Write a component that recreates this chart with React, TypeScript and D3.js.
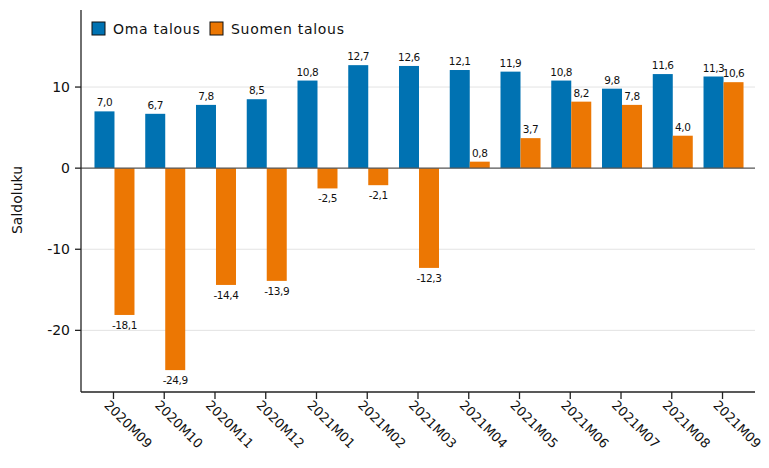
import React from "react";
import * as d3 from "d3";

const months = [
  "2020M09", "2020M10", "2020M11", "2020M12", "2021M01", "2021M02", "2021M03",
  "2021M04", "2021M05", "2021M06", "2021M07", "2021M08", "2021M09",
];
const omaTalous = [7.0, 6.7, 7.8, 8.5, 10.8, 12.7, 12.6, 12.1, 11.9, 10.8, 9.8, 11.6, 11.3];
const suomenTalous = [-18.1, -24.9, -14.4, -13.9, -2.5, -2.1, -12.3, 0.8, 3.7, 8.2, 7.8, 4.0, 10.6];
const seriesNames = ["Oma talous", "Suomen talous"];
const yTicks = [-20, -10, 0, 10];

const colors = ["#0072b2", "#ec7703"];
const width = 769;
const height = 468;
const font = "DejaVu Sans, Verdana, sans-serif";

const fmt = (v: number) => v.toFixed(1).replace(".", ",");

export default function App() {
  const x = d3.scaleBand().domain(months).range([81, 755]).paddingInner(0).paddingOuter(0.14);
  const y = d3.scaleLinear().domain([-27.6, 19.5]).range([392, 10]);
  const barW = 20;
  const series = [omaTalous, suomenTalous];

  return (
    <svg width={width} height={height} style={{ position: "absolute", left: 0, top: 0, background: "#fff" }}>
      {/* grid */}
      {yTicks.filter(t => t !== 0).map(t => (
        <line key={t} x1={81} x2={755} y1={y(t)} y2={y(t)} stroke="#e3e3e3" strokeWidth={1} />
      ))}

      {/* bars */}
      {months.map((m, i) => {
        const cx = x(m)! + x.bandwidth() / 2;
        return series.map((s, j) => {
          const v = s[i];
          const bx = cx - barW + j * barW + 1;
          const top = Math.min(y(v), y(0));
          const h = Math.abs(y(v) - y(0));
          return (
            <g key={m + j}>
              <rect x={bx} y={top} width={barW} height={h} fill={colors[j]} />
              <text
                x={bx + barW / 2}
                y={v >= 0 ? y(v) - 5 : y(v) + 14}
                textAnchor="middle"
                fontFamily={font}
                fontSize={10.5}
                letterSpacing={-0.4}
                fill="#111"
              >
                {fmt(v)}
              </text>
            </g>
          );
        });
      })}

      {/* zero line */}
      <line x1={81} x2={755} y1={y(0)} y2={y(0)} stroke="#555" strokeWidth={1.2} />

      {/* y axis */}
      <line x1={81} x2={81} y1={10} y2={392} stroke="#222" strokeWidth={1.3} />
      {yTicks.map(t => (
        <g key={t}>
          <line x1={75} x2={81} y1={y(t)} y2={y(t)} stroke="#222" strokeWidth={1.3} />
          <text x={70} y={y(t)} dy="0.35em" textAnchor="end" fontFamily={font} fontSize={14} fill="#111">
            {t}
          </text>
        </g>
      ))}
      <text
        transform={`translate(22, 200) rotate(-90)`}
        textAnchor="middle"
        fontFamily={font}
        fontSize={14}
        fill="#111"
      >
        Saldoluku
      </text>

      {/* x axis */}
      <line x1={81} x2={755} y1={392} y2={392} stroke="#222" strokeWidth={1.3} />
      {months.map(m => {
        const cx = x(m)! + x.bandwidth() / 2;
        return (
          <g key={m}>
            <line x1={cx} x2={cx} y1={392} y2={399} stroke="#222" strokeWidth={1.3} />
            <text
              transform={`translate(${cx - 10}, 406) rotate(45)`}
              fontFamily={font}
              fontSize={13}
              fill="#111"
            >
              {m}
            </text>
          </g>
        );
      })}

      {/* legend */}
      {seriesNames.map((n, j) => {
        const lx = 92 + j * 118;
        return (
          <g key={n}>
            <rect x={lx} y={22} width={13} height={13} fill={colors[j]} stroke="#111" strokeWidth={1} />
            <text x={lx + 21} y={29} dy="0.36em" fontFamily={font} fontSize={14} letterSpacing={0.7} fill="#111">
              {n}
            </text>
          </g>
        );
      })}
    </svg>
  );
}
